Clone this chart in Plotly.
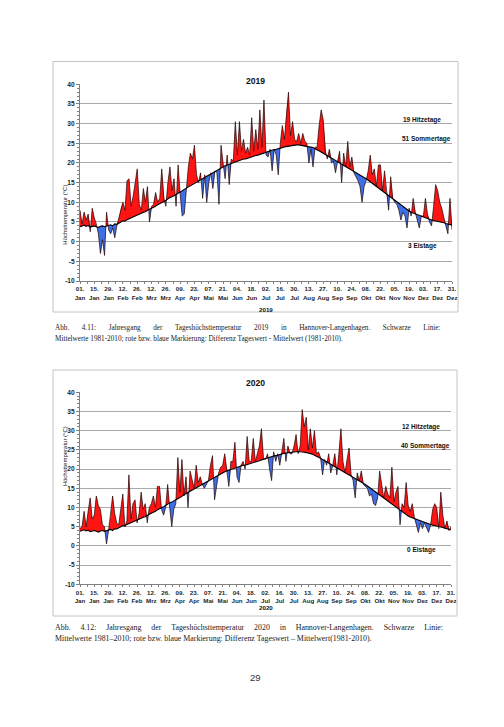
import numpy as np
import plotly.graph_objects as go

# Tag im Jahr (0 = 01. Jan), jeder zweite Tag
tage = list(range(0, 365, 2))

# Mittelwerte 1981-2010 der Tageshoechsttemperatur
mittel = [
    3.8, 4.0, 4.2, 3.9, 4.1, 3.7, 3.9,
    4.0, 3.8, 3.6, 3.9, 4.0, 3.8, 4.0,
    4.1, 4.3, 4.0, 4.5, 4.4, 4.8, 5.0,
    5.3, 5.2, 5.6, 5.8, 6.0, 6.3, 6.5,
    6.8, 6.9, 7.2, 7.5, 7.6, 8.0, 8.2,
    8.5, 8.7, 9.0, 9.4, 9.6, 10.0, 10.2,
    10.5, 10.9, 11.2, 11.4, 11.8, 12.0, 12.3,
    12.5, 12.9, 13.3, 13.6, 13.9, 14.3, 14.5,
    14.8, 15.2, 15.5, 15.8, 16.2, 16.5, 16.8,
    17.0, 17.3, 17.6, 17.9, 18.2, 18.5, 18.7,
    19.0, 19.3, 19.5, 19.7, 20.0, 20.2, 20.3,
    20.5, 20.6, 20.8, 21.0, 21.0, 21.2, 21.3,
    21.5, 21.7, 21.9, 22.0, 22.2, 22.4, 22.6,
    22.8, 22.9, 23.1, 23.2, 23.4, 23.5, 23.7,
    23.8, 23.9, 24.1, 24.2, 24.3, 24.4, 24.5,
    24.5, 24.6, 24.6, 24.5, 24.5, 24.4, 24.3,
    24.2, 24.0, 23.9, 23.6, 23.4, 23.1, 22.8,
    22.5, 22.2, 21.9, 21.6, 21.2, 20.9, 20.6,
    20.3, 20.0, 19.7, 19.4, 19.1, 18.8, 18.5,
    18.3, 17.9, 17.6, 17.3, 16.9, 16.6, 16.3,
    16.0, 15.6, 15.2, 14.8, 14.4, 14.0, 13.6,
    13.2, 12.8, 12.4, 12.0, 11.6, 11.2, 10.9,
    10.5, 10.1, 9.7, 9.3, 8.9, 8.5, 8.2,
    7.8, 7.5, 7.3, 7.0, 6.8, 6.6, 6.4,
    6.2, 6.0, 5.8, 5.7, 5.5, 5.4, 5.3,
    5.2, 5.0, 4.9, 4.8, 4.6, 4.5, 4.4,
    4.2,
]

tmax_2019 = [
    8, 4.5, 7.5, 5.5, 7, 2.5, 8.5,
    6, 4.5, 2, -3, 0.5, -3.5, 7.5,
    3, 2, 3.5, 1, 4, 6, 8.5,
    10, 8, 15.5, 16, 9, 11.5, 15,
    18.5, 9.5, 8, 13.5, 10, 14, 5,
    9, 9.5, 12.5, 10, 11, 18.5, 11,
    9, 15, 19, 13, 16, 9, 19.5,
    12, 6.5, 7, 13, 19, 22.5, 21,
    24.5, 17, 15, 17.5, 11, 17, 10,
    15, 17.5, 13.5, 18, 17.5, 9.5, 24.5,
    20, 16, 22, 14.5, 21, 20.5, 30.5,
    22, 30.5, 23, 26, 22.5, 24, 22,
    31.5, 23, 28.5, 23.5, 33.5, 24, 36,
    22, 21.5, 23.5, 18, 23.5, 22, 17,
    25, 29.5, 26, 33, 38, 27, 30.5,
    26, 25.5, 27.5, 25, 27.5, 25.5, 25,
    20, 23.5, 19, 24, 24, 29.5, 33.5,
    31, 23, 21, 23.5, 20, 20.5, 17.5,
    20.5, 23, 15, 22.5, 19, 25.5, 19,
    21.5, 17.5, 16.5, 15.5, 14, 10, 14,
    15.5, 18, 22, 17, 18.5, 14, 19.5,
    19.5, 13, 18, 12, 8, 16.5, 11,
    10, 9.5, 8, 5.5, 7.5, 6.5, 3.5,
    8.5, 6.5, 11, 7.5, 5.5, 3.5, 6.5,
    6.5, 11, 7, 5, 4, 9, 14.5,
    13, 10, 8.5, 6, 4, 2, 11,
    3,
]

tmax_2020 = [
    4.5, 5, 9, 5, 9, 12.5, 7,
    8, 13, 10.5, 9.5, 5.5, 5, 0.5,
    4, 8, 13, 8.5, 6, 5.5, 9,
    13.5, 5, 6.5, 18.5, 7, 11, 12,
    6, 8.5, 14, 9.5, 11, 6, 10,
    11, 13, 10, 15.5, 15.5, 9.5, 8,
    10, 16, 10, 5, 9.5, 11, 23,
    14, 22.5, 13, 18, 10, 19.5, 17,
    15, 21, 16.5, 18, 16, 15, 16,
    17, 21, 23.5, 12, 16, 19, 20.5,
    21, 24, 20, 15.5, 22, 22, 27,
    18, 16.5, 21, 22, 20, 28.5, 22,
    22, 28, 22, 24, 26, 30.5, 23,
    22.5, 24, 20, 17, 24.5, 22, 24,
    21, 24.5, 28, 22, 26, 24, 24,
    26, 29, 24, 26, 35.5, 31, 33.5,
    25, 30.5, 25.5, 30, 24, 24.5, 23,
    18.5, 22.5, 21, 24, 19, 21, 24,
    18.5, 24, 30.5, 22, 19, 22.5, 25.5,
    18.5, 17, 12.5, 19, 17, 19.5, 16,
    15.5, 15, 13, 13.5, 11, 10.5, 12.5,
    19.5, 16, 12.5, 15.5, 13.5, 12.5, 20.5,
    11.5, 14, 15.5, 5.5, 11, 10, 16.5,
    10.5, 9, 11, 7.5, 5.5, 3.5, 6,
    4.5, 6, 4.5, 3.5, 5.5, 9.5, 11,
    10, 4.5, 14, 8, 4.5, 6.5, 4,
    5,
]

tick_tage = list(range(0, 365, 14))
tick_text = [
    "01.<br>Jan", "15.<br>Jan", "29.<br>Jan", "12.<br>Feb", "26.<br>Feb",
    "12.<br>Mrz", "26.<br>Mrz", "09.<br>Apr", "23.<br>Apr", "07.<br>Mai",
    "21.<br>Mai", "04.<br>Jun", "18.<br>Jun", "02.<br>Jul", "16.<br>Jul",
    "30.<br>Jul", "13.<br>Aug", "27.<br>Aug", "10.<br>Sep", "24.<br>Sep",
    "08.<br>Okt", "22.<br>Okt", "05.<br>Nov", "19.<br>Nov", "03.<br>Dez",
    "17.<br>Dez", "31.<br>Dez",
]

jahre = ["2019", "2020"]
hitzetage = [19, 12]
sommertage = [51, 40]
eistage = [3, 0]

ROT = "#ff1414"
BLAU = "#3f6fe6"
CHART_FONT = "Liberation Sans"
W, H = 504, 727


def split_fill(x, ist, mw):
    # Schnittpunkte einfuegen, damit rot/blau sauber am Mittelwert wechseln
    xs, a, m = [x[0]], [ist[0]], [mw[0]]
    for i in range(1, len(x)):
        d0 = ist[i - 1] - mw[i - 1]
        d1 = ist[i] - mw[i]
        if d0 * d1 < 0:
            t = d0 / (d0 - d1)
            xc = x[i - 1] + t * (x[i] - x[i - 1])
            yc = mw[i - 1] + t * (mw[i] - mw[i - 1])
            xs.append(xc)
            a.append(yc)
            m.append(yc)
        xs.append(x[i])
        a.append(ist[i])
        m.append(mw[i])
    a = np.array(a)
    m = np.array(m)
    return xs, np.maximum(a, m), np.minimum(a, m), m


def py(p):
    return 1 - p / H


def px_(p):
    return p / W


fig = go.Figure()

panels = [
    dict(ist=tmax_2019, xa="x", ya="y", top=84.3, bot=281, right=452,
         box=(53, 61.5, 458, 312), title_y=74, xt_y=309,
         cap_y=(328, 339), cap_size=7.2, cap_gap=7),
    dict(ist=tmax_2020, xa="x2", ya="y2", top=392.3, bot=584.3, right=451,
         box=(53, 370, 457, 616), title_y=383, xt_y=612.5,
         cap_y=(627, 638), cap_size=7.9, cap_gap=5),
]

captions = [
    ("Abb. 4.11: Jahresgang der Tageshöchsttemperatur 2019 in Hannover-Langenhagen. Schwarze Linie:",
     "Mittelwerte 1981-2010; rote bzw. blaue Markierung: Differenz Tageswert - Mittelwert (1981-2010)."),
    ("Abb. 4.12: Jahresgang der Tageshöchsttemperatur 2020 in Hannover-Langenhagen. Schwarze Linie:",
     "Mittelwerte 1981–2010; rote bzw. blaue Markierung: Differenz Tageswert – Mittelwert(1981-2010)."),
]

annotations = []
shapes = []

for k, p in enumerate(panels):
    xs, oben, unten, m = split_fill(tage, p["ist"], mittel)
    common = dict(xaxis=p["xa"], yaxis=p["ya"], mode="lines",
                  hoverinfo="skip", showlegend=False)
    fig.add_trace(go.Scatter(x=xs, y=unten, line=dict(width=0), **common))
    fig.add_trace(go.Scatter(x=xs, y=m, line=dict(width=0), fill="tonexty",
                             fillcolor=BLAU, **common))
    fig.add_trace(go.Scatter(x=xs, y=oben, line=dict(width=0), fill="tonexty",
                             fillcolor=ROT, **common))
    fig.add_trace(go.Scatter(x=tage, y=p["ist"], line=dict(color="#200000", width=0.7), **common))
    fig.add_trace(go.Scatter(x=tage, y=mittel, line=dict(color="#000000", width=1.1), **common))

    sfx = "" if k == 0 else str(k + 1)
    ax_font = dict(family=CHART_FONT, size=6.2, color="#1f1f1f")
    fig.update_layout(**{
        "xaxis" + sfx: dict(
            domain=[px_(80), px_(p["right"])], anchor=p["ya"], range=[0, 364],
            tickmode="array", tickvals=tick_tage,
            ticktext=["<b>%s</b>" % t.replace("<br>", "</b><br><b>") for t in tick_text],
            tickfont=ax_font, ticks="outside", ticklen=2, tickcolor="#808080",
            showline=True, linecolor="#808080", linewidth=1, showgrid=False,
            zeroline=False, tickangle=0, automargin=False,
            minor=dict(tickvals=list(range(7, 364, 14)), ticks="outside",
                       ticklen=2, tickcolor="#808080"),
        ),
        "yaxis" + sfx: dict(
            domain=[py(p["bot"]), py(p["top"])], anchor=p["xa"], range=[-10, 40],
            tickfont=dict(family=CHART_FONT, size=6.6, color="#1f1f1f"),
            tickvals=list(range(-10, 41, 5)),
            ticktext=["<b>%d</b>" % v for v in range(-10, 41, 5)],
            showgrid=True, gridcolor="#a9a9a9", gridwidth=1.3, zeroline=False,
            showline=True, linecolor="#808080", linewidth=1, automargin=False,
            ticks="outside", ticklen=3, tickcolor="#808080",
            minor=dict(dtick=1, tick0=-10, ticks="outside", ticklen=2,
                       tickcolor="#808080", showgrid=False),
        ),
    })

    x0, y0, x1, y1 = p["box"]
    shapes.append(dict(type="rect", xref="paper", yref="paper",
                       x0=px_(x0), x1=px_(x1), y0=py(y1), y1=py(y0),
                       line=dict(color="#c4c4c4", width=1)))

    bold = dict(family=CHART_FONT, color="#111111")
    annotations += [
        dict(text="<b>%s</b>" % jahre[k], x=px_(255), y=py(p["title_y"]),
             xref="paper", yref="paper", showarrow=False,
             font=dict(size=8.6, **bold)),
        dict(text="<b>%s</b>" % jahre[k], x=px_(266), y=py(p["xt_y"]),
             xref="paper", yref="paper", showarrow=False,
             font=dict(size=6.2, **bold)),
        dict(text="Höchsttemperatur (°C)", x=px_(60), y=py((p["top"] + p["bot"]) / 2),
             xref="paper", yref="paper", showarrow=False, textangle=-90,
             font=dict(family=CHART_FONT, size=6, color="#111111")),
        dict(text="<b>%d Hitzetage</b>" % hitzetage[k], x=335, y=31,
             xref=p["xa"], yref=p["ya"], showarrow=False,
             font=dict(size=6.5, **bold)),
        dict(text="<b>%d Sommertage</b>" % sommertage[k], x=339, y=26.1,
             xref=p["xa"], yref=p["ya"], showarrow=False,
             font=dict(size=6.5, **bold)),
        dict(text="<b>%d Eistage</b>" % eistage[k], x=335, y=-1.1,
             xref=p["xa"], yref=p["ya"], showarrow=False,
             font=dict(size=6.5, **bold)),
    ]
    # erste Zeile im Blocksatz: Wortabstaende mit festen Leerzeichen
    zeile1 = ("\u00a0" * p["cap_gap"]).join(captions[k][0].split(" "))
    for line_txt, yy in zip([zeile1, captions[k][1]], p["cap_y"]):
        annotations.append(dict(
            text=line_txt, x=px_(53), y=py(yy), xref="paper", yref="paper",
            xanchor="left", yanchor="middle", showarrow=False,
            font=dict(family="Liberation Serif", size=p["cap_size"], color="#1a1a1a")))

annotations.append(dict(text="29", x=px_(255), y=py(685), xref="paper", yref="paper",
                        showarrow=False,
                        font=dict(family="Liberation Sans", size=9.5, color="#333333")))

fig.update_layout(
    width=W, height=H, margin=dict(l=0, r=0, t=0, b=0, pad=0),
    paper_bgcolor="white", plot_bgcolor="white",
    annotations=annotations, shapes=shapes,
)

fig.write_html(
    "out.html", config={"displayModeBar": False},
    post_script=("document.documentElement.style.overflow='hidden';"
                 "document.body.style.margin='0';"
                 "document.body.style.overflow='hidden';"
                 "document.body.style.height='727px';"),
)
